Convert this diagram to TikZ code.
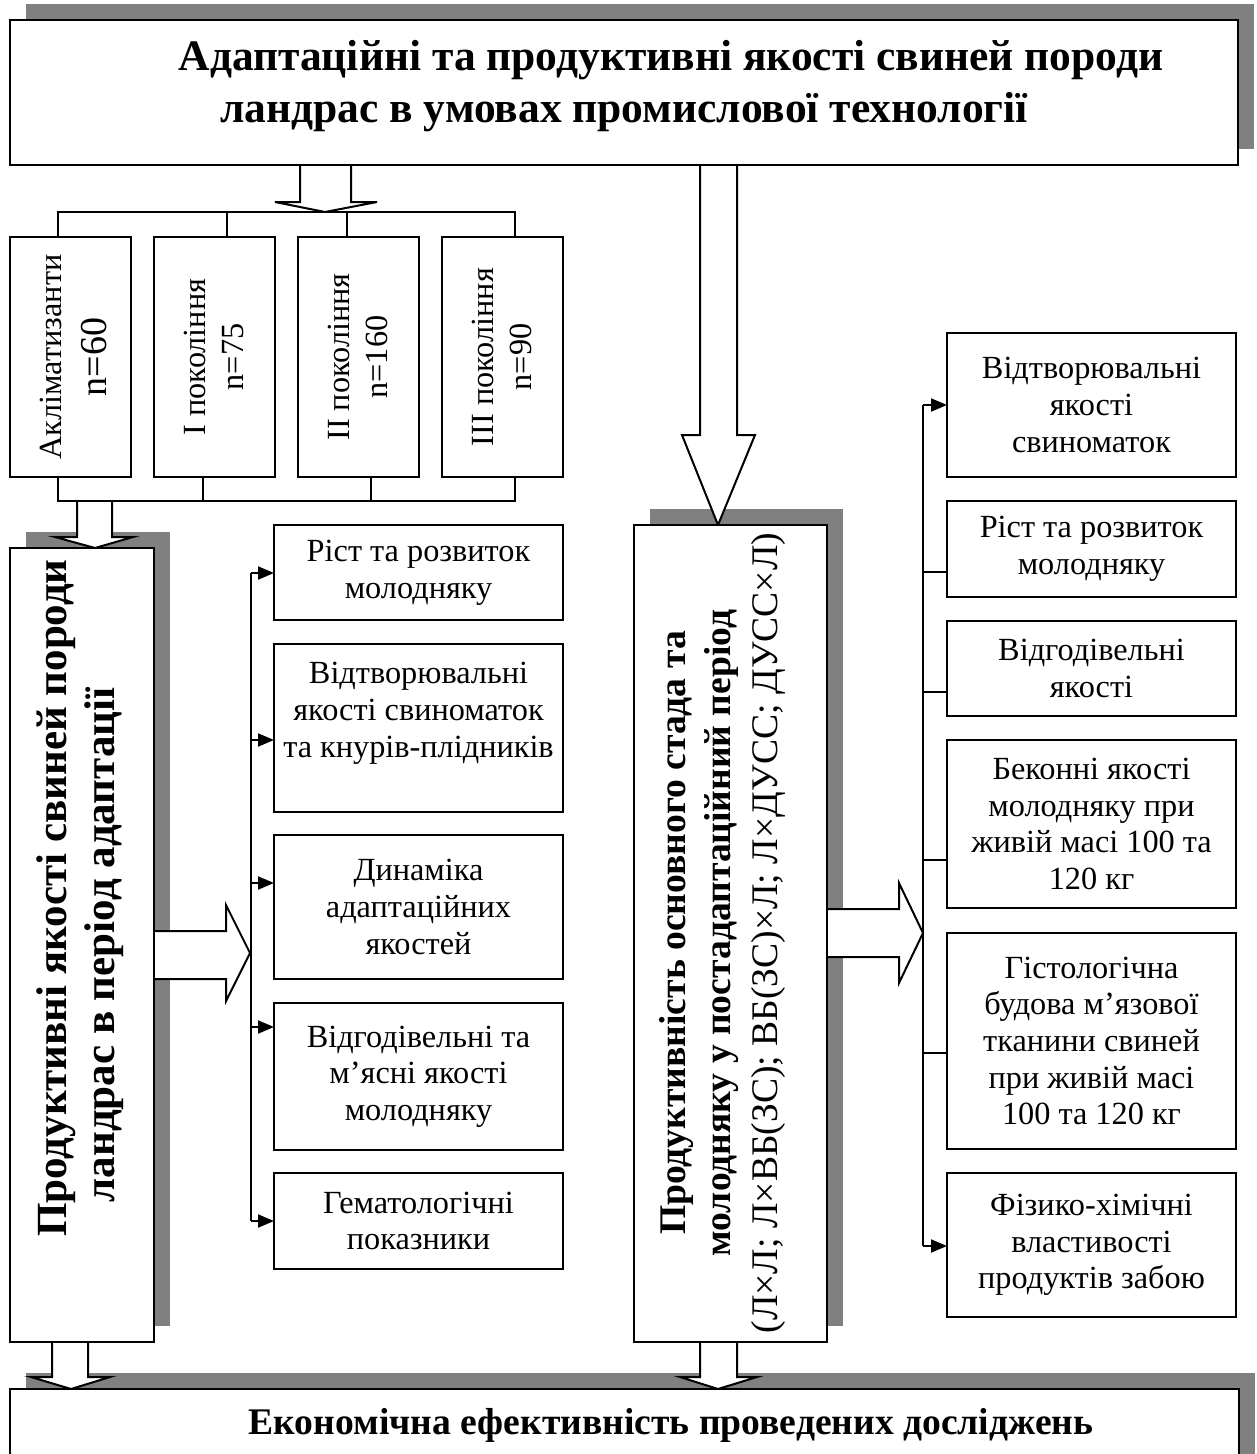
\documentclass[tikz,border=0pt]{standalone}
\usepackage{fontspec}
\setmainfont{Liberation Serif}
\usetikzlibrary{arrows.meta,calc}
\pgfdeclarelayer{shadowlayer}
\pgfdeclarelayer{arrowlayer}
\pgfsetlayers{shadowlayer,arrowlayer,main}
\definecolor{shadowgray}{RGB}{128,128,128}
\newcommand\regf{\fontsize{32.3pt}{36.7pt}\selectfont}
\newcommand\titlef{\fontsize{43.5pt}{52pt}\selectfont\bfseries}
\newcommand\vboldf{\fontsize{43pt}{48pt}\selectfont\bfseries}
\newcommand\midboldf{\fontsize{37.6pt}{45pt}\selectfont\bfseries}
\newcommand\econf{\fontsize{37.6pt}{43pt}\selectfont\bfseries}
\begin{document}
\begin{tikzpicture}[x=1pt,y=-1pt,
  box/.style={draw, line width=2.5pt, fill=white, anchor=north west, inner sep=0pt, outer sep=0pt, align=center, font=\regf},
  conn/.style={line width=2pt},
  arr/.style={line width=2pt, -{Triangle[length=16pt,width=13pt]}},
  hollow/.style={draw, line width=2pt, fill=white, line join=miter},
  vtext/.style={rotate=90, align=center, inner sep=0pt},
  shadowbox/.style={fill=shadowgray}
]
\useasboundingbox (0,0) rectangle (1256,1454);

% ---------- boxes ----------
\node[box, minimum width=1228pt, minimum height=145pt] (top) at (10,20) {};
\node[font=\titlef, align=center, inner sep=0pt] (title) at (624,86)
  {\hspace*{94pt}Адаптаційні та продуктивні якості свиней породи\\ландрас в умовах промислової технології};

\node[box, minimum width=121pt, minimum height=240pt] (g1) at (10,237) {};
\node[box, minimum width=121pt, minimum height=240pt] (g2) at (154,237) {};
\node[box, minimum width=121pt, minimum height=240pt] (g3) at (298,237) {};
\node[box, minimum width=121pt, minimum height=240pt] (g4) at (442,237) {};
\node[vtext, font=\regf] (g1t) at (73,357) {Акліматизанти\\[8.3pt]{\fontsize{38pt}{40pt}\selectfont n=60}};
\node[vtext, font=\regf] (g2t) at (214,357) {I покоління\\[1.3pt]n=75};
\node[vtext, font=\regf] (g3t) at (358,357) {II покоління\\[1.3pt]n=160};
\node[vtext, font=\regf] (g4t) at (502,357) {III покоління\\[1.3pt]n=90};

\node[box, minimum width=144pt, minimum height=794pt] (L) at (10,548) {};
\node[vtext, font=\vboldf] (Lt) at (80,945)
  {\hspace*{94pt}Продуктивні якості свиней породи\\ландрас в період адаптації};

\node[box, minimum width=193pt, minimum height=817pt] (M) at (634,525) {};
\node[vtext, font=\midboldf] (Mt) at (722,933)
  {Продуктивність основного стада та\\молодняку у постадаптаційний період\\[2pt]{\fontsize{37.6pt}{43pt}\selectfont\mdseries (Л×Л; Л×ВБ(ЗС); ВБ(ЗС)×Л; Л×ДУСС; ДУСС×Л)}};

\node[box, minimum width=289pt, minimum height=95pt] (m1) at (274,525) {Ріст та розвиток\\молодняку};
\node[box, minimum width=289pt, minimum height=168pt] (m2) at (274,644) {Відтворювальні\\якості свиноматок\\та кнурів-плідників\\\mbox{}};
\node[box, minimum width=289pt, minimum height=144pt] (m3) at (274,835) {Динаміка\\адаптаційних\\якостей};
\node[box, minimum width=289pt, minimum height=147pt] (m4) at (274,1003) {Відгодівельні та\\м’ясні якості\\молодняку};
\node[box, minimum width=289pt, minimum height=96pt] (m5) at (274,1173) {Гематологічні\\показники};

\node[box, minimum width=289pt, minimum height=144pt] (r1) at (947,333) {Відтворювальні\\якості\\свиноматок};
\node[box, minimum width=289pt, minimum height=96pt] (r2) at (947,501) {Ріст та розвиток\\молодняку};
\node[box, minimum width=289pt, minimum height=95pt] (r3) at (947,621) {Відгодівельні\\якості};
\node[box, minimum width=289pt, minimum height=168pt] (r4) at (947,740) {Беконні якості\\молодняку при\\живій масі 100 та\\120 кг};
\node[box, minimum width=289pt, minimum height=216pt] (r5) at (947,933) {Гістологічна\\будова м’язової\\тканини свиней\\при живій масі\\100 та 120 кг};
\node[box, minimum width=289pt, minimum height=144pt] (r6) at (947,1173) {Фізико-хімічні\\властивості\\продуктів забою};

\node[box, minimum width=1229pt, minimum height=90pt] (bot) at (10,1389) {};
\node[font=\econf, anchor=base, inner sep=0pt] (bott) at (671,1434) {Економічна ефективність проведених досліджень};

% ---------- shadows ----------
\begin{pgfonlayer}{shadowlayer}
\fill[white] (0,0) rectangle (1256,1454);
\fill[shadowbox] ($(top.south west)+(16,-16)$) rectangle ($(top.north east)+(16,-16)$);
\fill[shadowbox] ($(L.south west)+(16,-16)$) rectangle ($(L.north east)+(16,-16)$);
\fill[shadowbox] ($(M.south west)+(16,-16)$) rectangle ($(M.north east)+(16,-16)$);
\fill[shadowbox] ($(bot.south west)+(16,-16)$) rectangle ($(bot.north east)+(16,-16)$);
\end{pgfonlayer}

% ---------- hollow block arrows ----------
\begin{pgfonlayer}{arrowlayer}
\draw[hollow] (300,165) -- (300,202) -- (275,202) -- (325,212) -- (377,202) -- (351,202) -- (351,165);
\draw[hollow] (77,501) -- (77,537) -- (55,537) -- (95,548) -- (133,537) -- (112,537) -- (112,501);
\draw[hollow] (700,165) -- (700,435) -- (682,435) -- (718,525) -- (755,435) -- (737,435) -- (737,165);
\draw[hollow] (154,931) -- (226,931) -- (226,905) -- (250,953) -- (226,1001) -- (226,979) -- (154,979);
\draw[hollow] (827,909) -- (899,909) -- (899,883) -- (923,933) -- (899,983) -- (899,957) -- (827,957);
\draw[hollow] (52,1342) -- (52,1377) -- (31,1377) -- (71,1389) -- (110,1377) -- (88,1377) -- (88,1342);
\draw[hollow] (700,1342) -- (700,1377) -- (680,1377) -- (718,1389) -- (757,1377) -- (737,1377) -- (737,1342);
\end{pgfonlayer}

% ---------- brackets ----------
\coordinate (brT) at (0,212);
\coordinate (brB) at (0,501);
\coordinate (t1) at ([xshift=-12.5pt]g1.north);
\coordinate (t2) at ([xshift=12.5pt]g2.north);
\coordinate (t3) at ([xshift=-11.5pt]g3.north);
\coordinate (t4) at ([xshift=12.5pt]g4.north);
\coordinate (b1) at ([xshift=-12.5pt]g1.south);
\coordinate (b2) at ([xshift=-11.5pt]g2.south);
\coordinate (b3) at ([xshift=12.5pt]g3.south);
\coordinate (b4) at ([xshift=12.5pt]g4.south);
\draw[conn] (t1) -- (t1 |- brT) -- (t4 |- brT) -- (t4);
\draw[conn] (t2) -- (t2 |- brT);
\draw[conn] (t3) -- (t3 |- brT);
\draw[conn] (b1) -- (b1 |- brB) -- (b4 |- brB) -- (b4);
\draw[conn] (b2) -- (b2 |- brB);
\draw[conn] (b3) -- (b3 |- brB);

% ---------- left column connectors ----------
\coordinate (ltop) at (251,573);
\coordinate (lbot) at (251,1221);
\draw[conn] (ltop) -- (lbot);
\draw[arr] (ltop) -- (ltop -| m1.west);
\draw[arr] ([yshift=-12pt]m2.west -| ltop) -- ([yshift=-12pt]m2.west);
\draw[arr] ([yshift=24pt]m3.west -| ltop) -- ([yshift=24pt]m3.west);
\draw[arr] ([yshift=49.5pt]m4.west -| ltop) -- ([yshift=49.5pt]m4.west);
\draw[arr] (lbot) -- (lbot -| m5.west);

% ---------- right column connectors ----------
\coordinate (rtop) at (923,405);
\coordinate (rbot) at (923,1246);
\draw[conn] (rtop) -- (rbot);
\draw[arr] (rtop) -- (rtop -| r1.west);
\draw[conn] ([yshift=-23pt]r2.west -| rtop) -- ([yshift=-23pt]r2.west);
\draw[conn] ([yshift=-23.5pt]r3.west -| rtop) -- ([yshift=-23.5pt]r3.west);
\draw[conn] ([yshift=-36pt]r4.west -| rtop) -- ([yshift=-36pt]r4.west);
\draw[conn] ([yshift=-12pt]r5.west -| rtop) -- ([yshift=-12pt]r5.west);
\draw[arr] (rbot) -- (rbot -| r6.west);
\end{tikzpicture}
\end{document}
